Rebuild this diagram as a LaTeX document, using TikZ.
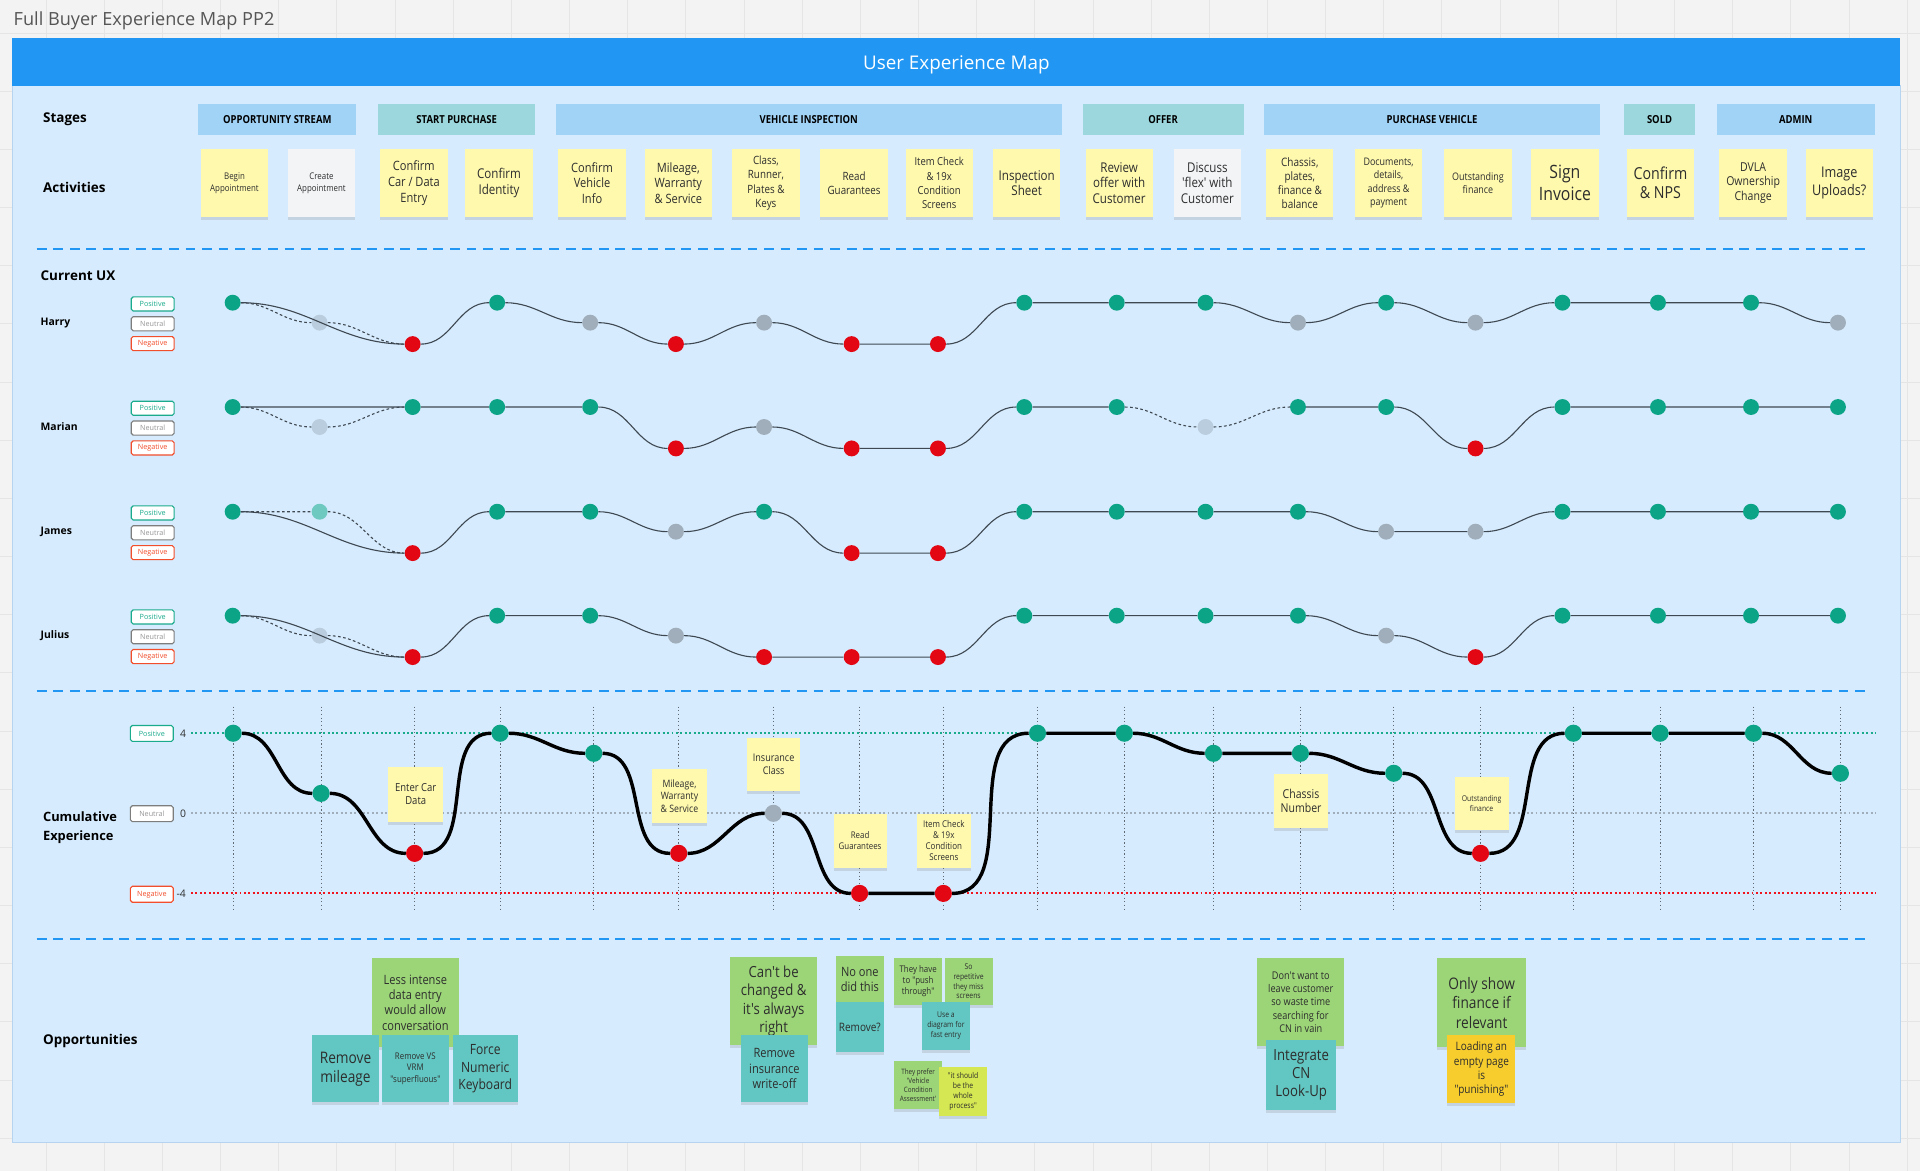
\documentclass[tikz,border=0pt]{standalone}
\usepackage{fontspec}
\setmainfont{Open Sans}
\newfontfamily\notefont[FakeStretch=0.86]{Open Sans}
\usetikzlibrary{shadows}
\newcommand\fsz[2]{\fontsize{#1}{#2}\selectfont}

\definecolor{pagegray}{RGB}{243,243,243}
\definecolor{gridgray}{RGB}{229,229,229}
\definecolor{panelblue}{RGB}{214,235,253}
\definecolor{paneledge}{RGB}{182,212,240}
\definecolor{headblue}{RGB}{33,150,243}
\definecolor{stageblue}{RGB}{161,211,247}
\definecolor{stageteal}{RGB}{155,215,220}
\definecolor{noteyellow}{RGB}{255,249,174}
\definecolor{notewhite}{RGB}{243,244,246}
\definecolor{oppgreen}{RGB}{156,213,120}
\definecolor{oppteal}{RGB}{98,199,194}
\definecolor{oppgold}{RGB}{247,205,45}
\definecolor{opplime}{RGB}{213,231,82}
\definecolor{notetext}{RGB}{45,45,45}
\definecolor{dotgreen}{RGB}{11,164,134}
\definecolor{dotred}{RGB}{227,6,19}
\definecolor{refred}{RGB}{240,20,30}
\definecolor{dotgray}{RGB}{160,174,187}
\definecolor{dotpale}{RGB}{186,205,222}
\definecolor{dotpaleteal}{RGB}{110,201,193}
\definecolor{linegray}{RGB}{62,72,82}
\definecolor{vgray}{RGB}{95,105,115}
\definecolor{legteal}{RGB}{26,170,140}
\definecolor{leggray}{RGB}{125,125,125}
\definecolor{legred}{RGB}{242,78,44}
\definecolor{titlegray}{RGB}{85,85,85}

\begin{document}
\begin{tikzpicture}[x=1pt,y=-1pt,
    note/.style={rectangle,fill=noteyellow,text=notetext,align=center,inner sep=1pt,
      minimum width=55,minimum height=55,font=\notefont,
      drop shadow={shadow xshift=0pt,shadow yshift=-2.5pt,opacity=.22}},
    oppnote/.style={note,fill=oppgreen},
    oppfix/.style={note,fill=oppteal},
    stagebox/.style={rectangle,fill=stageblue,minimum height=25,inner sep=0pt,
      font=\notefont\bfseries\fsz{9}{10}},
    rowlabel/.style={anchor=west,inner sep=0pt,align=left,font=\bfseries\fsz{11}{13}},
    namelabel/.style={anchor=west,inner sep=0pt,font=\bfseries\fsz{8.5}{10}},
    legbox/.style={draw,rounded corners=1.5pt,fill=white,line width=.9pt,minimum width=35,
      minimum height=11.5,inner sep=0pt,font=\fsz{5.9}{6}},
    legpos/.style={legbox,draw=legteal,text=legteal},
    legneu/.style={legbox,draw=leggray,text=leggray!80},
    legneg/.style={legbox,draw=legred,text=legred},
    uxdot/.style={circle,minimum size=13,inner sep=0pt},
    gdot/.style={uxdot,fill=dotgreen},
    rdot/.style={uxdot,fill=dotred},
    ndot/.style={uxdot,fill=dotgray},
    pdot/.style={uxdot,fill=dotpale},
    tdot/.style={uxdot,fill=dotpaleteal},
    uxcurve/.style={draw=linegray,line width=.9pt,out=0,in=180},
    uxdash/.style={uxcurve,dash pattern=on 2.2pt off 2pt},
    cumcurve/.style={draw=black,line width=2.8pt,out=0,in=180},
    sepline/.style={headblue,line width=1.6pt,dash pattern=on 8pt off 5.5pt},
    refline/.style={line width=1.6pt,dash pattern=on 1.6pt off 2pt},
    colline/.style={vgray,line width=.7pt,dash pattern=on 1pt off 2pt}]

  \useasboundingbox (0,0) rectangle (1568,956);
  \fill[pagegray] (0,0) rectangle (1568,956);
  \foreach \gx in {0,...,32}
    \draw[gridgray,line width=.8pt] (37.6+47.5*\gx,0) -- (37.6+47.5*\gx,956);
  \foreach \gy in {0,...,19}
    \draw[gridgray,line width=.8pt] (0,27+47.5*\gy) -- (1568,27+47.5*\gy);

  \node[anchor=west,inner sep=0pt,text=titlegray,font=\fsz{14.8}{17}] (title) at (11,17) {Full Buyer Experience Map PP2};

  \fill[panelblue] (10,70) rectangle (1552,933);
  \draw[paneledge,line width=.8pt] (10,70) rectangle (1552,933);
  \node[rectangle,fill=headblue,minimum width=1542,minimum height=39.5,inner sep=0pt] (header) at (781,50.5) {};
  \node[inner sep=0pt,text=white,font=\fsz{15.4}{18}] (headtext) at (781,53) {User Experience Map};

  \node[rowlabel] (stages) at (35,97.2) {Stages};
  \node[rowlabel] (activities) at (35,153.3) {Activities};

  \node[stagebox,minimum width=129] (sopp) at (226.5,97.5) {OPPORTUNITY STREAM};
  \node[stagebox,fill=stageteal,minimum width=128] (sstart) at (373,97.5) {START PURCHASE};
  \node[stagebox,minimum width=413] (sinsp) at (660.5,97.5) {VEHICLE INSPECTION};
  \node[stagebox,fill=stageteal,minimum width=131.5] (soffer) at (949.8,97.5) {OFFER};
  \node[stagebox,minimum width=275] (spurch) at (1169.5,97.5) {PURCHASE VEHICLE};
  \node[stagebox,fill=stageteal,minimum width=58.5] (ssold) at (1355.3,97.5) {SOLD};
  \node[stagebox,minimum width=129] (sadmin) at (1466.5,97.5) {ADMIN};

  \node[note,font=\notefont\fsz{7.5}{9.8}] (a1) at (191.5,149.5) {Begin\\Appointment};
  \node[note,fill=notewhite,font=\notefont\fsz{7.5}{9.8}] (a2) at (262.5,149.5) {Create\\Appointment};
  \node[note,font=\notefont\fsz{10.5}{12.8}] (a3) at (338,149.5) {Confirm\\Car / Data\\Entry};
  \node[note,font=\notefont\fsz{11}{13}] (a4) at (407.5,149.5) {Confirm\\Identity};
  \node[note,font=\notefont\fsz{10.5}{12.8}] (a5) at (483.5,149.5) {Confirm\\Vehicle\\Info};
  \node[note,font=\notefont\fsz{10.5}{12.8}] (a6) at (554,149.5) {Mileage,\\Warranty\\\& Service};
  \node[note,font=\notefont\fsz{9.3}{11.6}] (a7) at (625.5,149.5) {Class,\\Runner,\\Plates \&\\Keys};
  \node[note,font=\notefont\fsz{9.3}{11.5}] (a8) at (697.5,149.5) {Read\\Guarantees};
  \node[note,font=\notefont\fsz{9}{11.6}] (a9) at (767,149.5) {Item Check\\\& 19x\\Condition\\Screens};
  \node[note,font=\notefont\fsz{11}{12.9}] (a10) at (838.5,149.5) {Inspection\\Sheet};
  \node[note,font=\notefont\fsz{11}{12.9}] (a11) at (914,149.5) {Review\\offer with\\Customer};
  \node[note,fill=notewhite,font=\notefont\fsz{11}{12.9}] (a12) at (986,149.5) {Discuss\\'flex' with\\Customer};
  \node[note,font=\notefont\fsz{9.5}{11.3}] (a13) at (1061.5,149.5) {Chassis,\\plates,\\finance \&\\balance};
  \node[note,font=\notefont\fsz{8.5}{10.7}] (a14) at (1134,149.5) {Documents,\\details,\\address \&\\payment};
  \node[note,font=\notefont\fsz{8.5}{10.9}] (a15) at (1207,149.5) {Outstanding\\finance};
  \node[note,font=\notefont\fsz{15}{18.2}] (a16) at (1278,149.5) {Sign\\Invoice};
  \node[note,font=\notefont\fsz{13.5}{15.8}] (a17) at (1356,149.5) {Confirm\\\& NPS};
  \node[note,font=\notefont\fsz{10}{12.2}] (a18) at (1431.7,149.5) {DVLA\\Ownership\\Change};
  \node[note,font=\notefont\fsz{12}{15}] (a19) at (1502,149.5) {Image\\Uploads?};

  \draw[sepline] (30,203) -- (1528,203);
  \draw[sepline] (30,564) -- (1528,564);
  \draw[sepline] (30,767) -- (1528,767);

  \node[rowlabel] (curux) at (33,225.5) {Current UX};

  \begin{scope}[shift={(0,247.2)}]
    \node[namelabel] (harry) at (33,16.3) {Harry};
    \node[legpos] (hpos) at (124.7,1) {Positive};
    \node[legneu] (hneu) at (124.7,17.2) {Neutral};
    \node[legneg] (hneg) at (124.7,33.4) {Negative};
    \node[gdot] (h1) at (190,0) {};
    \node[pdot] (h2) at (261,16.3) {};
    \node[rdot] (h3) at (337,33.8) {};
    \node[gdot] (h4) at (406,0) {};
    \node[ndot] (h5) at (482,16.3) {};
    \node[rdot] (h6) at (552,33.8) {};
    \node[ndot] (h7) at (624,16.3) {};
    \node[rdot] (h8) at (695.5,33.8) {};
    \node[rdot] (h9) at (766,33.8) {};
    \node[gdot] (h10) at (836.5,0) {};
    \node[gdot] (h11) at (912,0) {};
    \node[gdot] (h12) at (984.5,0) {};
    \node[ndot] (h13) at (1060,16.3) {};
    \node[gdot] (h14) at (1132,0) {};
    \node[ndot] (h15) at (1205,16.3) {};
    \node[gdot] (h16) at (1276,0) {};
    \node[gdot] (h17) at (1354,0) {};
    \node[gdot] (h18) at (1430,0) {};
    \node[ndot] (h19) at (1501,16.3) {};
    \draw[uxdash] (h1) to (h2) to (h3);
    \draw[uxcurve] (h1) to (h3) to (h4) to (h5) to (h6) to (h7) to (h8) to (h9) to (h10)
      to (h11) to (h12) to (h13) to (h14) to (h15) to (h16) to (h17) to (h18) to (h19);
  \end{scope}

  \begin{scope}[shift={(0,332.4)}]
    \node[namelabel] (marian) at (33,16.3) {Marian};
    \node[legpos] (mpos) at (124.7,1) {Positive};
    \node[legneu] (mneu) at (124.7,17.2) {Neutral};
    \node[legneg] (mneg) at (124.7,33.4) {Negative};
    \node[gdot] (m1) at (190,0) {};
    \node[pdot] (m2) at (261,16.3) {};
    \node[gdot] (m3) at (337,0) {};
    \node[gdot] (m4) at (406,0) {};
    \node[gdot] (m5) at (482,0) {};
    \node[rdot] (m6) at (552,33.8) {};
    \node[ndot] (m7) at (624,16.3) {};
    \node[rdot] (m8) at (695.5,33.8) {};
    \node[rdot] (m9) at (766,33.8) {};
    \node[gdot] (m10) at (836.5,0) {};
    \node[gdot] (m11) at (912,0) {};
    \node[pdot] (m12) at (984.5,16.3) {};
    \node[gdot] (m13) at (1060,0) {};
    \node[gdot] (m14) at (1132,0) {};
    \node[rdot] (m15) at (1205,33.8) {};
    \node[gdot] (m16) at (1276,0) {};
    \node[gdot] (m17) at (1354,0) {};
    \node[gdot] (m18) at (1430,0) {};
    \node[gdot] (m19) at (1501,0) {};
    \draw[uxdash] (m1) to (m2) to (m3);
    \draw[uxdash] (m11) to (m12) to (m13);
    \draw[uxcurve] (m1) to (m3) to (m4) to (m5) to (m6) to (m7) to (m8) to (m9) to (m10) to (m11);
    \draw[uxcurve] (m13) to (m14) to (m15) to (m16) to (m17) to (m18) to (m19);
  \end{scope}

  \begin{scope}[shift={(0,417.9)}]
    \node[namelabel] (james) at (33,16.3) {James};
    \node[legpos] (jpos) at (124.7,1) {Positive};
    \node[legneu] (jneu) at (124.7,17.2) {Neutral};
    \node[legneg] (jneg) at (124.7,33.4) {Negative};
    \node[gdot] (j1) at (190,0) {};
    \node[tdot] (j2) at (261,0) {};
    \node[rdot] (j3) at (337,33.8) {};
    \node[gdot] (j4) at (406,0) {};
    \node[gdot] (j5) at (482,0) {};
    \node[ndot] (j6) at (552,16.3) {};
    \node[gdot] (j7) at (624,0) {};
    \node[rdot] (j8) at (695.5,33.8) {};
    \node[rdot] (j9) at (766,33.8) {};
    \node[gdot] (j10) at (836.5,0) {};
    \node[gdot] (j11) at (912,0) {};
    \node[gdot] (j12) at (984.5,0) {};
    \node[gdot] (j13) at (1060,0) {};
    \node[ndot] (j14) at (1132,16.3) {};
    \node[ndot] (j15) at (1205,16.3) {};
    \node[gdot] (j16) at (1276,0) {};
    \node[gdot] (j17) at (1354,0) {};
    \node[gdot] (j18) at (1430,0) {};
    \node[gdot] (j19) at (1501,0) {};
    \draw[uxdash] (j1) to (j2) to (j3);
    \draw[uxcurve] (j1) to (j3) to (j4) to (j5) to (j6) to (j7) to (j8) to (j9) to (j10)
      to (j11) to (j12) to (j13) to (j14) to (j15) to (j16) to (j17) to (j18) to (j19);
  \end{scope}

  \begin{scope}[shift={(0,502.8)}]
    \node[namelabel] (julius) at (33,16.3) {Julius};
    \node[legpos] (upos) at (124.7,1) {Positive};
    \node[legneu] (uneu) at (124.7,17.2) {Neutral};
    \node[legneg] (uneg) at (124.7,33.4) {Negative};
    \node[gdot] (u1) at (190,0) {};
    \node[pdot] (u2) at (261,16.3) {};
    \node[rdot] (u3) at (337,33.8) {};
    \node[gdot] (u4) at (406,0) {};
    \node[gdot] (u5) at (482,0) {};
    \node[ndot] (u6) at (552,16.3) {};
    \node[rdot] (u7) at (624,33.8) {};
    \node[rdot] (u8) at (695.5,33.8) {};
    \node[rdot] (u9) at (766,33.8) {};
    \node[gdot] (u10) at (836.5,0) {};
    \node[gdot] (u11) at (912,0) {};
    \node[gdot] (u12) at (984.5,0) {};
    \node[gdot] (u13) at (1060,0) {};
    \node[ndot] (u14) at (1132,16.3) {};
    \node[rdot] (u15) at (1205,33.8) {};
    \node[gdot] (u16) at (1276,0) {};
    \node[gdot] (u17) at (1354,0) {};
    \node[gdot] (u18) at (1430,0) {};
    \node[gdot] (u19) at (1501,0) {};
    \draw[uxdash] (u1) to (u2) to (u3);
    \draw[uxcurve] (u1) to (u3) to (u4) to (u5) to (u6) to (u7) to (u8) to (u9) to (u10)
      to (u11) to (u12) to (u13) to (u14) to (u15) to (u16) to (u17) to (u18) to (u19);
  \end{scope}

  \node[rowlabel,font=\bfseries\fsz{10.5}{15}] (cumlbl) at (35,676) {Cumulative\\Experience};
  \node[legpos,minimum height=13] (cpos) at (124,599) {Positive};
  \node[legneu,minimum height=13] (cneu) at (124,664.5) {Neutral};
  \node[legneg,minimum height=13] (cneg) at (124,730.3) {Negative};
  \node[inner sep=0pt,text=notetext,font=\fsz{8.5}{10}] (v4) at (149.5,599) {4};
  \node[inner sep=0pt,text=notetext,font=\fsz{8.5}{10}] (v0) at (149.5,664.5) {0};
  \node[inner sep=0pt,text=notetext,font=\fsz{8.5}{10}] (vm4) at (148,730.3) {-4};

  \foreach \cx in {190.4,262.2,338.6,408.4,484.9,554.3,631.6,702,770.4,847.3,918.2,991,1062,1138.2,1209.1,1284.9,1355.7,1432,1503}
    \draw[colline] (\cx,577) -- (\cx,743);
  \draw[refline,draw=legteal] (156,598.8) -- (1532,598.8);
  \draw[refline,draw=dotgray] (156,664.2) -- (1532,664.2);
  \draw[refline,draw=refred] (156,729.6) -- (1532,729.6);

  \node[gdot,minimum size=14] (c1) at (190.4,598.8) {};
  \node[gdot,minimum size=14] (c2) at (262.2,647.9) {};
  \node[rdot,minimum size=14] (c3) at (338.6,696.9) {};
  \node[gdot,minimum size=14] (c4) at (408.4,598.8) {};
  \node[gdot,minimum size=14] (c5) at (484.9,615.2) {};
  \node[rdot,minimum size=14] (c6) at (554.3,696.9) {};
  \node[ndot,minimum size=14] (c7) at (631.6,664.2) {};
  \node[rdot,minimum size=14] (c8) at (702,729.6) {};
  \node[rdot,minimum size=14] (c9) at (770.4,729.6) {};
  \node[gdot,minimum size=14] (c10) at (847.3,598.8) {};
  \node[gdot,minimum size=14] (c11) at (918.2,598.8) {};
  \node[gdot,minimum size=14] (c12) at (991,615.2) {};
  \node[gdot,minimum size=14] (c13) at (1062,615.2) {};
  \node[gdot,minimum size=14] (c14) at (1138.2,631.5) {};
  \node[rdot,minimum size=14] (c15) at (1209.1,696.9) {};
  \node[gdot,minimum size=14] (c16) at (1284.9,598.8) {};
  \node[gdot,minimum size=14] (c17) at (1355.7,598.8) {};
  \node[gdot,minimum size=14] (c18) at (1432,598.8) {};
  \node[gdot,minimum size=14] (c19) at (1503,631.5) {};
  \draw[cumcurve] (c1) to (c2) to (c3) to (c4) to (c5) to (c6) to (c7) to (c8) to (c9) to (c10)
    to (c11) to (c12) to (c13) to (c14) to (c15) to (c16) to (c17) to (c18) to (c19);

  \node[note,minimum width=45,minimum height=45,font=\notefont\fsz{9}{10.3}] (kcar) at (339.5,648.5) {Enter Car\\Data};
  \node[note,minimum width=44.6,minimum height=44.4,font=\notefont\fsz{8.3}{10.3}] (kmile) at (554.9,650.2) {Mileage,\\Warranty\\\& Service};
  \node[note,minimum width=43.6,minimum height=42.7,font=\notefont\fsz{8.6}{10.3}] (kins) at (631.8,624.4) {Insurance\\Class};
  \node[note,minimum width=43.2,minimum height=43.8,font=\notefont\fsz{7.5}{9}] (kread) at (702.4,686.7) {Read\\Guarantees};
  \node[note,minimum width=44,minimum height=43.8,font=\notefont\fsz{7.6}{9}] (kitem) at (770.8,686.7) {Item Check\\\& 19x\\Condition\\Screens};
  \node[note,minimum width=44,minimum height=44,font=\notefont\fsz{10}{11.7}] (kchas) at (1062.5,654) {Chassis\\Number};
  \node[note,minimum width=44,minimum height=43.5,font=\notefont\fsz{6.5}{8.3}] (kout) at (1210,656) {Outstanding\\finance};

  \node[rowlabel] (opps) at (35,850.5) {Opportunities};

  \node[oppnote,minimum width=71.3,minimum height=72.4,font=\notefont\fsz{10.5}{12.5},yshift=-4] (oless) at (339.2,814.8) {Less intense\\data entry\\would allow\\conversation};
  \node[oppfix,minimum width=54.6,minimum height=55,font=\notefont\fsz{13}{15.5}] (omile) at (282.2,872.8) {Remove\\mileage};
  \node[oppfix,minimum width=54.3,minimum height=55,font=\notefont\fsz{7.5}{9.5}] (ovrm) at (339.2,872.8) {Remove VS\\VRM\\"superfluous"};
  \node[oppfix,minimum width=53.3,minimum height=55,font=\notefont\fsz{11.5}{14}] (okey) at (396.3,872.8) {Force\\Numeric\\Keyboard};

  \node[oppnote,minimum width=71.2,minimum height=72.1,font=\notefont\fsz{12.5}{15}] (ochg) at (631.8,817.4) {Can't be\\changed \&\\it's always\\right};
  \node[oppfix,minimum width=55.2,minimum height=55,font=\notefont\fsz{10.5}{12.5}] (owrite) at (632.4,872.8) {Remove\\insurance\\write-off};

  \node[oppnote,minimum width=39.7,minimum height=37.8,font=\notefont\fsz{10.5}{12.3}] (onone) at (702.2,799.6) {No one\\did this};
  \node[oppfix,minimum width=39.7,minimum height=40.4,font=\notefont\fsz{9.5}{11}] (orem) at (702.2,838.7) {Remove?};
  \node[oppnote,minimum width=39.7,minimum height=38,font=\notefont\fsz{7.5}{9}] (opush) at (749.8,801.6) {They have\\to "push\\through"};
  \node[oppnote,minimum width=39.3,minimum height=39,font=\notefont\fsz{6.5}{8}] (orep) at (791,801.5) {So\\repetitive\\they miss\\screens};
  \node[oppfix,minimum width=39.3,minimum height=39.5,font=\notefont\fsz{6.5}{8}] (odiag) at (772.5,837.8) {Use a\\diagram for\\fast entry};
  \node[oppnote,minimum width=39.7,minimum height=39.4,font=\notefont\fsz{6}{7.5}] (opref) at (749.8,886.2) {They prefer\\'Vehicle\\Condition\\Assessment'};
  \node[note,fill=opplime,minimum width=39,minimum height=39.5,font=\notefont\fsz{6.5}{8}] (owhole) at (786.5,891.3) {"it should\\be the\\whole\\process"};

  \node[oppnote,minimum width=71,minimum height=71.6,font=\notefont\fsz{8.7}{10.9}] (ocn) at (1062.3,818.4) {Don't want to\\leave customer\\so waste time\\searching for\\CN in vain};
  \node[oppfix,minimum width=57.4,minimum height=57.2,font=\notefont\fsz{12.5}{15}] (olook) at (1062.6,877.9) {Integrate\\CN\\Look-Up};

  \node[oppnote,minimum width=72.4,minimum height=72.4,font=\notefont\fsz{13}{15.9},yshift=-3] (ofin) at (1210,815.8) {Only show\\finance if\\relevant};
  \node[note,fill=oppgold,minimum width=55.5,minimum height=55.7,font=\notefont\fsz{9.5}{11.7}] (oload) at (1209.8,873.2) {Loading an\\empty page\\is\\"punishing"};
\end{tikzpicture}
\end{document}
